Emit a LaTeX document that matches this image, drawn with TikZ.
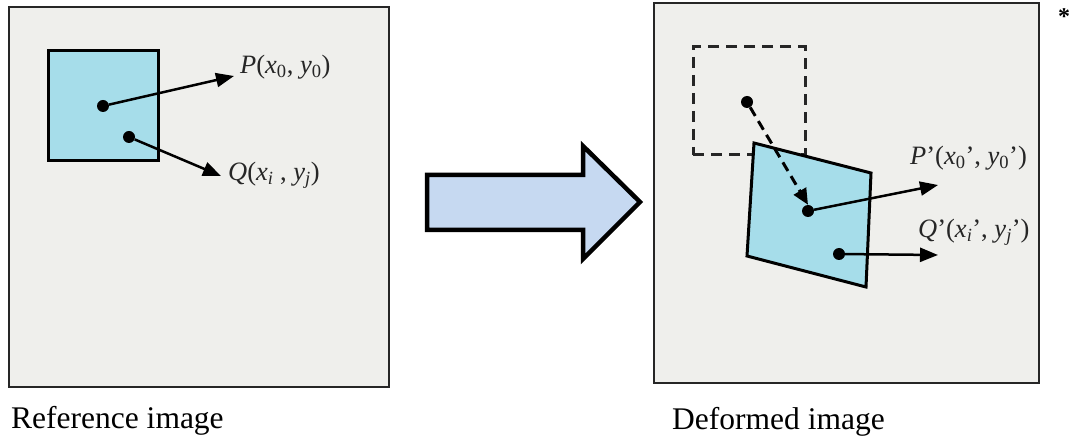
\documentclass[tikz,border=0pt]{standalone}
\usepackage{fontspec}
\setmainfont{Liberation Serif}
\usetikzlibrary{arrows.meta}
\definecolor{noise}{RGB}{239,239,236}
\definecolor{patch}{RGB}{166,221,234}
\definecolor{bigarrow}{RGB}{198,217,241}
\tikzset{
  imgbox/.style={draw=black!85, line width=2.5pt, fill=noise, inner sep=0pt},
  patchbox/.style={draw=black, line width=3pt, fill=patch, line join=miter},
  oldbox/.style={draw=black!85, line width=3pt, dash pattern=on 11pt off 7pt},
  dot/.style={circle, fill=black, inner sep=0pt, minimum size=12pt},
  ptr/.style={draw=black, line width=2.5pt, -{Triangle[length=18pt,width=14pt]}},
  dptr/.style={draw=black, line width=3pt, dash pattern=on 10pt off 6pt, -{Triangle[length=16pt,width=14pt]}},
  lbl/.style={anchor=base west, inner sep=0pt, font=\fontsize{26.5}{30}\selectfont, text=black!85},
  captiontext/.style={anchor=base west, inner sep=0pt, font=\fontsize{31.5}{36}\selectfont},
  block/.style={draw=black, line width=4.5pt, fill=bigarrow, line join=miter}
}
\begin{document}
\begin{tikzpicture}[x=1pt,y=-1pt]
\useasboundingbox (0,0) rectangle (1073,443);
% image frames
\node[imgbox, minimum width=380pt, minimum height=380pt] (refimg) at (199,197) {};
\node[imgbox, minimum width=385pt, minimum height=380pt] (defimg) at (846.5,193) {};
% reference patch
\node[patchbox, minimum width=110pt, minimum height=110pt, inner sep=0pt] (patchA) at (103,106) {};
\node[dot] (P) at (103,106) {};
\node[dot] (Q) at (129,137) {};
\coordinate (Ptip) at (234,76);
\coordinate (Qtip) at (221,176);
\draw[ptr] (P) -- (Ptip);
\draw[ptr] (Q) -- (Qtip);
\node[lbl] (Plbl) at (240,74) {\textit{P}(\textit{x}\textsubscript{0}, \textit{y}\textsubscript{0})};
\node[lbl] (Qlbl) at (228,181) {\textit{Q}(\textit{x\textsubscript{i}} , \textit{y\textsubscript{j}})};
% big arrow
\draw[block] (427,175) -- (583,175) -- (583,146) -- (640,202) -- (583,259) -- (583,230) -- (427,230) -- cycle;
% deformed image
\node[oldbox, minimum width=112pt, minimum height=108pt, inner sep=0pt] (oldpatch) at (749,101) {};
\draw[patchbox] (754,143) -- (871,173) -- (866,287) -- (747,256) -- cycle;
\node[dot] (P0) at (747,102) {};
\node[dot] (P1) at (808,211) {};
\node[dot] (Q1) at (839,254) {};
\coordinate (P1tip) at (938,185);
\coordinate (Q1tip) at (938,255);
\draw[dptr] (P0) -- (P1.north);
\draw[ptr] (P1) -- (P1tip);
\draw[ptr] (Q1) -- (Q1tip);
\node[lbl] (P1lbl) at (910,165) {\textit{P}'(\textit{x}\textsubscript{0}', \textit{y}\textsubscript{0}')};
\node[lbl] (Q1lbl) at (918,238) {\textit{Q}'(\textit{x\textsubscript{i}}', \textit{y\textsubscript{j}}')};
\node[anchor=center, inner sep=0pt, font=\bfseries\fontsize{24}{24}\selectfont] (star) at (1064,17) {*};
% captions
\node[captiontext] (refcap) at (11,428) {Reference image};
\node[captiontext] (defcap) at (672,429) {Deformed image};
\end{tikzpicture}
\end{document}
